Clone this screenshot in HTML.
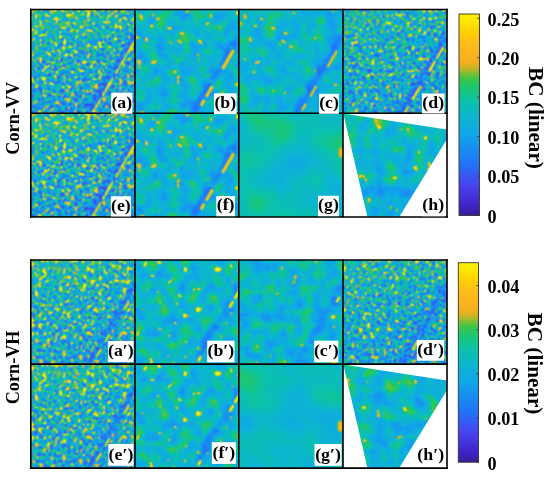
<!DOCTYPE html>
<html><head><meta charset="utf-8"><style>
html,body{margin:0;padding:0;background:#fff;}
svg{display:block;}
text{font-family:"Liberation Serif",serif;font-weight:bold;fill:#000;opacity:0.999;}
.lab{font-size:15.9px;}
.tick{font-size:19.6px;}
.side{font-size:18.2px;}
.bcl{font-size:21.2px;}
</style></head><body>
<svg width="550" height="477" viewBox="0 0 550 477">
<defs>
<filter id="cmap" x="0" y="0" width="100%" height="100%" color-interpolation-filters="sRGB"><feComponentTransfer><feFuncR type="table" tableValues="0.220 0.226 0.232 0.238 0.245 0.251 0.254 0.257 0.260 0.264 0.267 0.270 0.273 0.276 0.279 0.282 0.268 0.254 0.240 0.225 0.211 0.197 0.183 0.168 0.154 0.140 0.125 0.121 0.117 0.112 0.108 0.103 0.099 0.094 0.090 0.085 0.081 0.076 0.072 0.067 0.063 0.061 0.060 0.058 0.056 0.055 0.053 0.052 0.050 0.049 0.047 0.047 0.047 0.047 0.047 0.047 0.047 0.047 0.056 0.066 0.075 0.085 0.094 0.110 0.125 0.141 0.178 0.214 0.251 0.345 0.439 0.554 0.669 0.784 0.839 0.894 0.949 0.961 0.973 0.984 0.996 0.997 0.997 0.998 0.999 0.999 1.000 1.000 1.000 1.000 1.000 1.000 1.000 1.000 1.000 1.000 1.000 0.997 0.994 0.991 0.988"/><feFuncG type="table" tableValues="0.110 0.116 0.122 0.129 0.135 0.141 0.154 0.166 0.179 0.191 0.204 0.216 0.229 0.242 0.254 0.267 0.284 0.302 0.320 0.338 0.356 0.374 0.391 0.409 0.427 0.445 0.463 0.476 0.490 0.503 0.517 0.530 0.543 0.557 0.570 0.584 0.597 0.611 0.624 0.638 0.651 0.658 0.665 0.672 0.679 0.686 0.693 0.700 0.707 0.715 0.722 0.727 0.733 0.738 0.744 0.750 0.755 0.761 0.764 0.767 0.770 0.773 0.776 0.779 0.782 0.784 0.782 0.779 0.776 0.765 0.753 0.737 0.722 0.706 0.701 0.695 0.690 0.694 0.698 0.702 0.706 0.712 0.719 0.725 0.732 0.739 0.745 0.759 0.774 0.788 0.803 0.817 0.831 0.849 0.867 0.884 0.902 0.912 0.922 0.931 0.941"/><feFuncB type="table" tableValues="0.596 0.634 0.671 0.709 0.747 0.784 0.800 0.816 0.831 0.847 0.863 0.878 0.894 0.910 0.925 0.941 0.944 0.947 0.950 0.953 0.955 0.958 0.961 0.964 0.967 0.970 0.973 0.969 0.965 0.961 0.957 0.953 0.949 0.945 0.941 0.937 0.933 0.929 0.925 0.922 0.918 0.906 0.894 0.882 0.871 0.859 0.847 0.835 0.824 0.812 0.800 0.780 0.760 0.739 0.719 0.699 0.679 0.659 0.624 0.590 0.555 0.521 0.486 0.455 0.424 0.392 0.356 0.319 0.282 0.251 0.220 0.199 0.178 0.157 0.146 0.136 0.125 0.125 0.125 0.125 0.125 0.120 0.115 0.110 0.105 0.099 0.094 0.078 0.063 0.047 0.031 0.016 0.000 0.000 0.000 0.000 0.000 0.000 0.000 0.000 0.000"/></feComponentTransfer></filter>
<filter id="cmapb" x="0" y="0" width="100%" height="100%" color-interpolation-filters="sRGB"><feComponentTransfer><feFuncR type="table" tableValues="0.220 0.226 0.232 0.238 0.245 0.251 0.254 0.257 0.260 0.264 0.267 0.270 0.273 0.276 0.279 0.282 0.268 0.254 0.240 0.225 0.211 0.197 0.183 0.168 0.154 0.140 0.125 0.121 0.117 0.112 0.108 0.103 0.099 0.094 0.090 0.085 0.081 0.076 0.072 0.067 0.063 0.061 0.060 0.058 0.056 0.055 0.053 0.052 0.050 0.049 0.047 0.047 0.047 0.047 0.047 0.047 0.047 0.047 0.056 0.066 0.075 0.085 0.094 0.110 0.125 0.141 0.178 0.214 0.251 0.345 0.439 0.554 0.669 0.784 0.839 0.894 0.949 0.961 0.973 0.984 0.996 0.997 0.997 0.998 0.999 0.999 1.000 1.000 1.000 1.000 1.000 1.000 1.000 1.000 1.000 1.000 1.000 0.997 0.994 0.991 0.988"/><feFuncG type="table" tableValues="0.110 0.116 0.122 0.129 0.135 0.141 0.154 0.166 0.179 0.191 0.204 0.216 0.229 0.242 0.254 0.267 0.284 0.302 0.320 0.338 0.356 0.374 0.391 0.409 0.427 0.445 0.463 0.476 0.490 0.503 0.517 0.530 0.543 0.557 0.570 0.584 0.597 0.611 0.624 0.638 0.651 0.658 0.665 0.672 0.679 0.686 0.693 0.700 0.707 0.715 0.722 0.727 0.733 0.738 0.744 0.750 0.755 0.761 0.764 0.767 0.770 0.773 0.776 0.779 0.782 0.784 0.782 0.779 0.776 0.765 0.753 0.737 0.722 0.706 0.701 0.695 0.690 0.694 0.698 0.702 0.706 0.712 0.719 0.725 0.732 0.739 0.745 0.759 0.774 0.788 0.803 0.817 0.831 0.849 0.867 0.884 0.902 0.912 0.922 0.931 0.941"/><feFuncB type="table" tableValues="0.596 0.634 0.671 0.709 0.747 0.784 0.800 0.816 0.831 0.847 0.863 0.878 0.894 0.910 0.925 0.941 0.944 0.947 0.950 0.953 0.955 0.958 0.961 0.964 0.967 0.970 0.973 0.969 0.965 0.961 0.957 0.953 0.949 0.945 0.941 0.937 0.933 0.929 0.925 0.922 0.918 0.906 0.894 0.882 0.871 0.859 0.847 0.835 0.824 0.812 0.800 0.780 0.760 0.739 0.719 0.699 0.679 0.659 0.624 0.590 0.555 0.521 0.486 0.455 0.424 0.392 0.356 0.319 0.282 0.251 0.220 0.199 0.178 0.157 0.146 0.136 0.125 0.125 0.125 0.125 0.125 0.120 0.115 0.110 0.105 0.099 0.094 0.078 0.063 0.047 0.031 0.016 0.000 0.000 0.000 0.000 0.000 0.000 0.000 0.000 0.000"/></feComponentTransfer><feConvolveMatrix order="3" kernelMatrix="1 2 1 2 4 2 1 2 1" edgeMode="duplicate" preserveAlpha="true"/></filter>
<clipPath id="pclip"><rect x="0" y="0" width="104.2" height="103.7"/></clipPath>
<filter id="bl1" x="-30%" y="-30%" width="160%" height="160%"><feGaussianBlur stdDeviation="2"/></filter>
<filter id="bl2" x="-30%" y="-30%" width="160%" height="160%"><feGaussianBlur stdDeviation="0.8"/></filter>
<filter id="n1" x="0" y="0" width="100%" height="100%" color-interpolation-filters="sRGB"><feTurbulence type="fractalNoise" baseFrequency="0.7" numOctaves="1" seed="11"/><feColorMatrix type="matrix" values="1 0 0 0 0 1 0 0 0 0 1 0 0 0 0 0 0 0 0 1"/><feComponentTransfer><feFuncR type="linear" slope="3" intercept="-1.0"/><feFuncG type="linear" slope="3" intercept="-1.0"/><feFuncB type="linear" slope="3" intercept="-1.0"/></feComponentTransfer><feConvolveMatrix order="5" kernelMatrix="1 4 6 4 1 4 16 24 16 4 6 24 36 24 6 4 16 24 16 4 1 4 6 4 1" edgeMode="duplicate" preserveAlpha="true"/><feComponentTransfer result="v1"><feFuncR type="table" tableValues="0.160 0.160 0.160 0.160 0.160 0.160 0.160 0.160 0.160 0.160 0.160 0.160 0.160 0.160 0.160 0.160 0.160 0.160 0.160 0.160 0.160 0.175 0.193 0.211 0.229 0.251 0.279 0.307 0.340 0.390 0.440 0.495 0.550 0.588 0.622 0.656 0.677 0.688 0.699 0.711 0.720 0.720 0.720 0.720 0.720 0.720 0.720 0.720 0.720 0.720 0.720 0.720 0.720 0.720 0.720 0.720 0.720 0.720 0.720 0.720 0.720"/><feFuncG type="table" tableValues="0.160 0.160 0.160 0.160 0.160 0.160 0.160 0.160 0.160 0.160 0.160 0.160 0.160 0.160 0.160 0.160 0.160 0.160 0.160 0.160 0.160 0.175 0.193 0.211 0.229 0.251 0.279 0.307 0.340 0.390 0.440 0.495 0.550 0.588 0.622 0.656 0.677 0.688 0.699 0.711 0.720 0.720 0.720 0.720 0.720 0.720 0.720 0.720 0.720 0.720 0.720 0.720 0.720 0.720 0.720 0.720 0.720 0.720 0.720 0.720 0.720"/><feFuncB type="table" tableValues="0.160 0.160 0.160 0.160 0.160 0.160 0.160 0.160 0.160 0.160 0.160 0.160 0.160 0.160 0.160 0.160 0.160 0.160 0.160 0.160 0.160 0.175 0.193 0.211 0.229 0.251 0.279 0.307 0.340 0.390 0.440 0.495 0.550 0.588 0.622 0.656 0.677 0.688 0.699 0.711 0.720 0.720 0.720 0.720 0.720 0.720 0.720 0.720 0.720 0.720 0.720 0.720 0.720 0.720 0.720 0.720 0.720 0.720 0.720 0.720 0.720"/></feComponentTransfer><feTurbulence type="fractalNoise" baseFrequency="0.25" numOctaves="2" seed="68"/><feColorMatrix type="matrix" values="1 0 0 0 0 1 0 0 0 0 1 0 0 0 0 0 0 0 0 1"/><feComponentTransfer result="v2"><feFuncR type="table" tableValues="0.000 0.000 0.000 0.000 0.000 0.000 0.000 0.000 0.000 0.000 0.000 0.000 0.000 0.000 0.000 0.000 0.000 0.000 0.000 0.000 0.000 0.000 0.000 0.000 0.000 0.000 0.000 0.000 0.000 0.000 0.000 0.000 0.000 0.000 0.000 0.000 0.000 0.109 0.369 0.510 0.596 0.605 0.611 0.617 0.622 0.628 0.633 0.639 0.644 0.650 0.656 0.660 0.660 0.660 0.660 0.660 0.660 0.660 0.660 0.660 0.660"/><feFuncG type="table" tableValues="0.000 0.000 0.000 0.000 0.000 0.000 0.000 0.000 0.000 0.000 0.000 0.000 0.000 0.000 0.000 0.000 0.000 0.000 0.000 0.000 0.000 0.000 0.000 0.000 0.000 0.000 0.000 0.000 0.000 0.000 0.000 0.000 0.000 0.000 0.000 0.000 0.000 0.109 0.369 0.510 0.596 0.605 0.611 0.617 0.622 0.628 0.633 0.639 0.644 0.650 0.656 0.660 0.660 0.660 0.660 0.660 0.660 0.660 0.660 0.660 0.660"/><feFuncB type="table" tableValues="0.000 0.000 0.000 0.000 0.000 0.000 0.000 0.000 0.000 0.000 0.000 0.000 0.000 0.000 0.000 0.000 0.000 0.000 0.000 0.000 0.000 0.000 0.000 0.000 0.000 0.000 0.000 0.000 0.000 0.000 0.000 0.000 0.000 0.000 0.000 0.000 0.000 0.109 0.369 0.510 0.596 0.605 0.611 0.617 0.622 0.628 0.633 0.639 0.644 0.650 0.656 0.660 0.660 0.660 0.660 0.660 0.660 0.660 0.660 0.660 0.660"/></feComponentTransfer><feComposite in="v1" in2="v2" operator="arithmetic" k2="1" k3="1"/></filter>
<linearGradient id="tl1" x1="0.2" y1="0" x2="0.5" y2="1"><stop offset="0" stop-color="#fff" stop-opacity="0.2"/><stop offset="0.45" stop-color="#fff" stop-opacity="0"/><stop offset="0.55" stop-color="#000" stop-opacity="0"/><stop offset="1" stop-color="#000" stop-opacity="0.13999999999999999"/></linearGradient>
<g id="vA" clip-path="url(#pclip)"><g filter="url(#cmapb)"><rect x="0" y="0" width="104.2" height="103.7" filter="url(#n1)"/><rect x="0" y="0" width="104.2" height="103.7" fill="url(#tl1)"/><line x1="56.6" y1="106.1" x2="104.2" y2="25.1" stroke="rgb(30,30,30)" stroke-width="5" stroke-opacity="0.75" filter="url(#bl1)"/><line x1="62.3" y1="102.5" x2="63.6" y2="100.2" stroke="rgb(250,250,250)" stroke-width="2.30" stroke-linecap="round"/><line x1="64.7" y1="98.3" x2="66.3" y2="95.6" stroke="rgb(250,250,250)" stroke-width="1.94" stroke-linecap="round"/><line x1="67.1" y1="94.3" x2="69.4" y2="90.3" stroke="rgb(250,250,250)" stroke-width="1.55" stroke-linecap="round"/><line x1="72.2" y1="85.5" x2="73.3" y2="83.6" stroke="rgb(250,250,250)" stroke-width="1.92" stroke-linecap="round"/><line x1="74.5" y1="81.7" x2="77.0" y2="77.3" stroke="rgb(250,250,250)" stroke-width="1.94" stroke-linecap="round"/><line x1="77.2" y1="77.0" x2="79.7" y2="72.7" stroke="rgb(250,250,250)" stroke-width="2.50" stroke-linecap="round"/><line x1="80.2" y1="71.9" x2="82.1" y2="68.6" stroke="rgb(250,250,250)" stroke-width="1.47" stroke-linecap="round"/><line x1="85.2" y1="63.5" x2="87.3" y2="59.8" stroke="rgb(250,250,250)" stroke-width="1.87" stroke-linecap="round"/><line x1="88.5" y1="57.7" x2="90.0" y2="55.2" stroke="rgb(250,250,250)" stroke-width="1.47" stroke-linecap="round"/><line x1="90.7" y1="54.0" x2="92.2" y2="51.4" stroke="rgb(250,250,250)" stroke-width="2.00" stroke-linecap="round"/><line x1="92.9" y1="50.3" x2="94.4" y2="47.7" stroke="rgb(250,250,250)" stroke-width="1.69" stroke-linecap="round"/><line x1="94.9" y1="46.9" x2="96.9" y2="43.5" stroke="rgb(250,250,250)" stroke-width="1.46" stroke-linecap="round"/><line x1="97.4" y1="42.6" x2="100.1" y2="38.0" stroke="rgb(250,250,250)" stroke-width="2.16" stroke-linecap="round"/><line x1="100.9" y1="36.6" x2="102.4" y2="34.1" stroke="rgb(250,250,250)" stroke-width="2.40" stroke-linecap="round"/></g></g>
<filter id="n2" x="0" y="0" width="100%" height="100%" color-interpolation-filters="sRGB"><feTurbulence type="fractalNoise" baseFrequency="0.09" numOctaves="3" seed="12"/><feColorMatrix type="matrix" values="1 0 0 0 0 1 0 0 0 0 1 0 0 0 0 0 0 0 0 1"/><feComponentTransfer result="v1"><feFuncR type="table" tableValues="0.330 0.330 0.330 0.330 0.330 0.330 0.330 0.330 0.330 0.332 0.338 0.345 0.351 0.357 0.363 0.370 0.376 0.382 0.388 0.396 0.404 0.412 0.420 0.428 0.436 0.445 0.453 0.461 0.469 0.477 0.485 0.496 0.506 0.517 0.528 0.538 0.549 0.559 0.570 0.581 0.591 0.602 0.612 0.620 0.629 0.637 0.645 0.654 0.662 0.670 0.679 0.687 0.690 0.690 0.690 0.690 0.690 0.690 0.690 0.690 0.690"/><feFuncG type="table" tableValues="0.330 0.330 0.330 0.330 0.330 0.330 0.330 0.330 0.330 0.332 0.338 0.345 0.351 0.357 0.363 0.370 0.376 0.382 0.388 0.396 0.404 0.412 0.420 0.428 0.436 0.445 0.453 0.461 0.469 0.477 0.485 0.496 0.506 0.517 0.528 0.538 0.549 0.559 0.570 0.581 0.591 0.602 0.612 0.620 0.629 0.637 0.645 0.654 0.662 0.670 0.679 0.687 0.690 0.690 0.690 0.690 0.690 0.690 0.690 0.690 0.690"/><feFuncB type="table" tableValues="0.330 0.330 0.330 0.330 0.330 0.330 0.330 0.330 0.330 0.332 0.338 0.345 0.351 0.357 0.363 0.370 0.376 0.382 0.388 0.396 0.404 0.412 0.420 0.428 0.436 0.445 0.453 0.461 0.469 0.477 0.485 0.496 0.506 0.517 0.528 0.538 0.549 0.559 0.570 0.581 0.591 0.602 0.612 0.620 0.629 0.637 0.645 0.654 0.662 0.670 0.679 0.687 0.690 0.690 0.690 0.690 0.690 0.690 0.690 0.690 0.690"/></feComponentTransfer><feTurbulence type="fractalNoise" baseFrequency="0.1" numOctaves="2" seed="69"/><feColorMatrix type="matrix" values="1 0 0 0 0 1 0 0 0 0 1 0 0 0 0 0 0 0 0 1"/><feComponentTransfer result="v2"><feFuncR type="table" tableValues="0.000 0.000 0.000 0.000 0.000 0.000 0.000 0.000 0.000 0.000 0.000 0.000 0.000 0.000 0.000 0.000 0.000 0.000 0.000 0.000 0.000 0.000 0.000 0.000 0.000 0.000 0.000 0.000 0.000 0.000 0.000 0.000 0.000 0.000 0.000 0.000 0.000 0.000 0.000 0.000 0.000 0.000 0.000 0.000 0.094 0.201 0.308 0.368 0.383 0.398 0.413 0.428 0.443 0.450 0.450 0.450 0.450 0.450 0.450 0.450 0.450"/><feFuncG type="table" tableValues="0.000 0.000 0.000 0.000 0.000 0.000 0.000 0.000 0.000 0.000 0.000 0.000 0.000 0.000 0.000 0.000 0.000 0.000 0.000 0.000 0.000 0.000 0.000 0.000 0.000 0.000 0.000 0.000 0.000 0.000 0.000 0.000 0.000 0.000 0.000 0.000 0.000 0.000 0.000 0.000 0.000 0.000 0.000 0.000 0.094 0.201 0.308 0.368 0.383 0.398 0.413 0.428 0.443 0.450 0.450 0.450 0.450 0.450 0.450 0.450 0.450"/><feFuncB type="table" tableValues="0.000 0.000 0.000 0.000 0.000 0.000 0.000 0.000 0.000 0.000 0.000 0.000 0.000 0.000 0.000 0.000 0.000 0.000 0.000 0.000 0.000 0.000 0.000 0.000 0.000 0.000 0.000 0.000 0.000 0.000 0.000 0.000 0.000 0.000 0.000 0.000 0.000 0.000 0.000 0.000 0.000 0.000 0.000 0.000 0.094 0.201 0.308 0.368 0.383 0.398 0.413 0.428 0.443 0.450 0.450 0.450 0.450 0.450 0.450 0.450 0.450"/></feComponentTransfer><feComposite in="v1" in2="v2" operator="arithmetic" k2="1" k3="1"/></filter>
<linearGradient id="tl2" x1="0.2" y1="0" x2="0.5" y2="1"><stop offset="0" stop-color="#fff" stop-opacity="0.03"/><stop offset="0.45" stop-color="#fff" stop-opacity="0"/><stop offset="0.55" stop-color="#000" stop-opacity="0"/><stop offset="1" stop-color="#000" stop-opacity="0.020999999999999998"/></linearGradient>
<g id="vB" clip-path="url(#pclip)"><g filter="url(#cmapb)"><rect x="0" y="0" width="104.2" height="103.7" filter="url(#n2)"/><rect x="0" y="0" width="104.2" height="103.7" fill="url(#tl2)"/><line x1="56.6" y1="106.1" x2="104.2" y2="25.1" stroke="rgb(30,30,30)" stroke-width="7" stroke-opacity="0.6" filter="url(#bl1)"/><line x1="66.6" y1="95.1" x2="68.7" y2="91.4" stroke="rgb(222,222,222)" stroke-width="3.20" stroke-linecap="round"/><line x1="71.8" y1="86.3" x2="77.0" y2="77.4" stroke="rgb(222,222,222)" stroke-width="3.20" stroke-linecap="round"/><line x1="88.2" y1="58.3" x2="98.1" y2="41.4" stroke="rgb(222,222,222)" stroke-width="3.36" stroke-linecap="round"/><ellipse cx="0" cy="0" rx="3.0" ry="1.5" transform="translate(6.3,7.3) rotate(70)" fill="rgb(225,225,225)"/><ellipse cx="0" cy="0" rx="2.0" ry="1.5" transform="translate(16.7,16.6) rotate(0)" fill="rgb(225,225,225)"/><ellipse cx="0" cy="0" rx="2.0" ry="1.3" transform="translate(22.9,9.3) rotate(0)" fill="rgb(225,225,225)"/><ellipse cx="0" cy="0" rx="2.5" ry="1.5" transform="translate(34.4,18.7) rotate(20)" fill="rgb(225,225,225)"/><ellipse cx="0" cy="0" rx="2.0" ry="1.3" transform="translate(46.9,23.9) rotate(0)" fill="rgb(225,225,225)"/><ellipse cx="0" cy="0" rx="3.0" ry="1.3" transform="translate(44.8,32.1) rotate(30)" fill="rgb(225,225,225)"/><ellipse cx="0" cy="0" rx="2.5" ry="1.5" transform="translate(11.5,30.1) rotate(80)" fill="rgb(225,225,225)"/><ellipse cx="0" cy="0" rx="3.0" ry="1.5" transform="translate(18.8,52.9) rotate(-20)" fill="rgb(225,225,225)"/><ellipse cx="0" cy="0" rx="2.0" ry="1.2" transform="translate(2.1,28.0) rotate(0)" fill="rgb(225,225,225)"/><ellipse cx="0" cy="0" rx="2.0" ry="1.2" transform="translate(39.6,62.2) rotate(0)" fill="rgb(225,225,225)"/></g></g>
<filter id="n3" x="0" y="0" width="100%" height="100%" color-interpolation-filters="sRGB"><feTurbulence type="fractalNoise" baseFrequency="0.08" numOctaves="3" seed="13"/><feColorMatrix type="matrix" values="1 0 0 0 0 1 0 0 0 0 1 0 0 0 0 0 0 0 0 1"/><feComponentTransfer result="v1"><feFuncR type="table" tableValues="0.330 0.330 0.330 0.330 0.330 0.330 0.330 0.330 0.330 0.330 0.335 0.341 0.348 0.354 0.361 0.367 0.373 0.380 0.386 0.394 0.402 0.410 0.418 0.427 0.435 0.443 0.452 0.460 0.468 0.477 0.485 0.496 0.507 0.518 0.529 0.540 0.551 0.562 0.573 0.583 0.594 0.605 0.615 0.623 0.632 0.641 0.649 0.658 0.666 0.675 0.683 0.690 0.690 0.690 0.690 0.690 0.690 0.690 0.690 0.690 0.690"/><feFuncG type="table" tableValues="0.330 0.330 0.330 0.330 0.330 0.330 0.330 0.330 0.330 0.330 0.335 0.341 0.348 0.354 0.361 0.367 0.373 0.380 0.386 0.394 0.402 0.410 0.418 0.427 0.435 0.443 0.452 0.460 0.468 0.477 0.485 0.496 0.507 0.518 0.529 0.540 0.551 0.562 0.573 0.583 0.594 0.605 0.615 0.623 0.632 0.641 0.649 0.658 0.666 0.675 0.683 0.690 0.690 0.690 0.690 0.690 0.690 0.690 0.690 0.690 0.690"/><feFuncB type="table" tableValues="0.330 0.330 0.330 0.330 0.330 0.330 0.330 0.330 0.330 0.330 0.335 0.341 0.348 0.354 0.361 0.367 0.373 0.380 0.386 0.394 0.402 0.410 0.418 0.427 0.435 0.443 0.452 0.460 0.468 0.477 0.485 0.496 0.507 0.518 0.529 0.540 0.551 0.562 0.573 0.583 0.594 0.605 0.615 0.623 0.632 0.641 0.649 0.658 0.666 0.675 0.683 0.690 0.690 0.690 0.690 0.690 0.690 0.690 0.690 0.690 0.690"/></feComponentTransfer><feTurbulence type="fractalNoise" baseFrequency="0.1" numOctaves="2" seed="70"/><feColorMatrix type="matrix" values="1 0 0 0 0 1 0 0 0 0 1 0 0 0 0 0 0 0 0 1"/><feComponentTransfer result="v2"><feFuncR type="table" tableValues="0.000 0.000 0.000 0.000 0.000 0.000 0.000 0.000 0.000 0.000 0.000 0.000 0.000 0.000 0.000 0.000 0.000 0.000 0.000 0.000 0.000 0.000 0.000 0.000 0.000 0.000 0.000 0.000 0.000 0.000 0.000 0.000 0.000 0.000 0.000 0.000 0.000 0.000 0.000 0.000 0.000 0.000 0.000 0.000 0.014 0.114 0.215 0.316 0.356 0.377 0.398 0.419 0.440 0.450 0.450 0.450 0.450 0.450 0.450 0.450 0.450"/><feFuncG type="table" tableValues="0.000 0.000 0.000 0.000 0.000 0.000 0.000 0.000 0.000 0.000 0.000 0.000 0.000 0.000 0.000 0.000 0.000 0.000 0.000 0.000 0.000 0.000 0.000 0.000 0.000 0.000 0.000 0.000 0.000 0.000 0.000 0.000 0.000 0.000 0.000 0.000 0.000 0.000 0.000 0.000 0.000 0.000 0.000 0.000 0.014 0.114 0.215 0.316 0.356 0.377 0.398 0.419 0.440 0.450 0.450 0.450 0.450 0.450 0.450 0.450 0.450"/><feFuncB type="table" tableValues="0.000 0.000 0.000 0.000 0.000 0.000 0.000 0.000 0.000 0.000 0.000 0.000 0.000 0.000 0.000 0.000 0.000 0.000 0.000 0.000 0.000 0.000 0.000 0.000 0.000 0.000 0.000 0.000 0.000 0.000 0.000 0.000 0.000 0.000 0.000 0.000 0.000 0.000 0.000 0.000 0.000 0.000 0.000 0.000 0.014 0.114 0.215 0.316 0.356 0.377 0.398 0.419 0.440 0.450 0.450 0.450 0.450 0.450 0.450 0.450 0.450"/></feComponentTransfer><feComposite in="v1" in2="v2" operator="arithmetic" k2="1" k3="1"/></filter>
<linearGradient id="tl3" x1="0.2" y1="0" x2="0.5" y2="1"><stop offset="0" stop-color="#fff" stop-opacity="0.03"/><stop offset="0.45" stop-color="#fff" stop-opacity="0"/><stop offset="0.55" stop-color="#000" stop-opacity="0"/><stop offset="1" stop-color="#000" stop-opacity="0.020999999999999998"/></linearGradient>
<g id="vC" clip-path="url(#pclip)"><g filter="url(#cmapb)"><rect x="0" y="0" width="104.2" height="103.7" filter="url(#n3)"/><rect x="0" y="0" width="104.2" height="103.7" fill="url(#tl3)"/><line x1="56.6" y1="106.1" x2="104.2" y2="25.1" stroke="rgb(30,30,30)" stroke-width="7" stroke-opacity="0.6" filter="url(#bl1)"/><line x1="63.6" y1="100.3" x2="66.6" y2="95.1" stroke="rgb(215,215,215)" stroke-width="2.40" stroke-linecap="round"/><line x1="71.8" y1="86.3" x2="77.0" y2="77.4" stroke="rgb(215,215,215)" stroke-width="2.40" stroke-linecap="round"/><line x1="89.1" y1="56.8" x2="97.7" y2="42.1" stroke="rgb(215,215,215)" stroke-width="2.40" stroke-linecap="round"/><ellipse cx="0" cy="0" rx="3.0" ry="1.5" transform="translate(6.3,7.3) rotate(70)" fill="rgb(215,215,215)"/><ellipse cx="0" cy="0" rx="2.0" ry="1.5" transform="translate(16.7,16.6) rotate(0)" fill="rgb(215,215,215)"/><ellipse cx="0" cy="0" rx="2.0" ry="1.3" transform="translate(22.9,9.3) rotate(0)" fill="rgb(215,215,215)"/><ellipse cx="0" cy="0" rx="2.5" ry="1.5" transform="translate(34.4,18.7) rotate(20)" fill="rgb(215,215,215)"/><ellipse cx="0" cy="0" rx="2.0" ry="1.3" transform="translate(46.9,23.9) rotate(0)" fill="rgb(215,215,215)"/><ellipse cx="0" cy="0" rx="3.0" ry="1.3" transform="translate(44.8,32.1) rotate(30)" fill="rgb(215,215,215)"/><ellipse cx="0" cy="0" rx="2.5" ry="1.5" transform="translate(11.5,30.1) rotate(80)" fill="rgb(215,215,215)"/><ellipse cx="0" cy="0" rx="3.0" ry="1.5" transform="translate(18.8,52.9) rotate(-20)" fill="rgb(215,215,215)"/></g></g>
<filter id="n4" x="0" y="0" width="100%" height="100%" color-interpolation-filters="sRGB"><feTurbulence type="fractalNoise" baseFrequency="0.7" numOctaves="1" seed="14"/><feColorMatrix type="matrix" values="1 0 0 0 0 1 0 0 0 0 1 0 0 0 0 0 0 0 0 1"/><feComponentTransfer><feFuncR type="linear" slope="3" intercept="-1.0"/><feFuncG type="linear" slope="3" intercept="-1.0"/><feFuncB type="linear" slope="3" intercept="-1.0"/></feComponentTransfer><feConvolveMatrix order="5" kernelMatrix="1 4 6 4 1 4 16 24 16 4 6 24 36 24 6 4 16 24 16 4 1 4 6 4 1" edgeMode="duplicate" preserveAlpha="true"/><feComponentTransfer result="v1"><feFuncR type="table" tableValues="0.160 0.160 0.160 0.160 0.160 0.160 0.160 0.160 0.160 0.160 0.160 0.160 0.160 0.160 0.160 0.160 0.160 0.160 0.160 0.160 0.160 0.175 0.193 0.211 0.229 0.251 0.279 0.307 0.340 0.390 0.440 0.495 0.550 0.588 0.622 0.656 0.677 0.688 0.699 0.711 0.720 0.720 0.720 0.720 0.720 0.720 0.720 0.720 0.720 0.720 0.720 0.720 0.720 0.720 0.720 0.720 0.720 0.720 0.720 0.720 0.720"/><feFuncG type="table" tableValues="0.160 0.160 0.160 0.160 0.160 0.160 0.160 0.160 0.160 0.160 0.160 0.160 0.160 0.160 0.160 0.160 0.160 0.160 0.160 0.160 0.160 0.175 0.193 0.211 0.229 0.251 0.279 0.307 0.340 0.390 0.440 0.495 0.550 0.588 0.622 0.656 0.677 0.688 0.699 0.711 0.720 0.720 0.720 0.720 0.720 0.720 0.720 0.720 0.720 0.720 0.720 0.720 0.720 0.720 0.720 0.720 0.720 0.720 0.720 0.720 0.720"/><feFuncB type="table" tableValues="0.160 0.160 0.160 0.160 0.160 0.160 0.160 0.160 0.160 0.160 0.160 0.160 0.160 0.160 0.160 0.160 0.160 0.160 0.160 0.160 0.160 0.175 0.193 0.211 0.229 0.251 0.279 0.307 0.340 0.390 0.440 0.495 0.550 0.588 0.622 0.656 0.677 0.688 0.699 0.711 0.720 0.720 0.720 0.720 0.720 0.720 0.720 0.720 0.720 0.720 0.720 0.720 0.720 0.720 0.720 0.720 0.720 0.720 0.720 0.720 0.720"/></feComponentTransfer><feTurbulence type="fractalNoise" baseFrequency="0.25" numOctaves="2" seed="71"/><feColorMatrix type="matrix" values="1 0 0 0 0 1 0 0 0 0 1 0 0 0 0 0 0 0 0 1"/><feComponentTransfer result="v2"><feFuncR type="table" tableValues="0.000 0.000 0.000 0.000 0.000 0.000 0.000 0.000 0.000 0.000 0.000 0.000 0.000 0.000 0.000 0.000 0.000 0.000 0.000 0.000 0.000 0.000 0.000 0.000 0.000 0.000 0.000 0.000 0.000 0.000 0.000 0.000 0.000 0.000 0.000 0.000 0.000 0.000 0.000 0.000 0.259 0.473 0.559 0.604 0.611 0.618 0.625 0.633 0.640 0.647 0.654 0.660 0.660 0.660 0.660 0.660 0.660 0.660 0.660 0.660 0.660"/><feFuncG type="table" tableValues="0.000 0.000 0.000 0.000 0.000 0.000 0.000 0.000 0.000 0.000 0.000 0.000 0.000 0.000 0.000 0.000 0.000 0.000 0.000 0.000 0.000 0.000 0.000 0.000 0.000 0.000 0.000 0.000 0.000 0.000 0.000 0.000 0.000 0.000 0.000 0.000 0.000 0.000 0.000 0.000 0.259 0.473 0.559 0.604 0.611 0.618 0.625 0.633 0.640 0.647 0.654 0.660 0.660 0.660 0.660 0.660 0.660 0.660 0.660 0.660 0.660"/><feFuncB type="table" tableValues="0.000 0.000 0.000 0.000 0.000 0.000 0.000 0.000 0.000 0.000 0.000 0.000 0.000 0.000 0.000 0.000 0.000 0.000 0.000 0.000 0.000 0.000 0.000 0.000 0.000 0.000 0.000 0.000 0.000 0.000 0.000 0.000 0.000 0.000 0.000 0.000 0.000 0.000 0.000 0.000 0.259 0.473 0.559 0.604 0.611 0.618 0.625 0.633 0.640 0.647 0.654 0.660 0.660 0.660 0.660 0.660 0.660 0.660 0.660 0.660 0.660"/></feComponentTransfer><feComposite in="v1" in2="v2" operator="arithmetic" k2="1" k3="1"/></filter>
<linearGradient id="tl4" x1="0.2" y1="0" x2="0.5" y2="1"><stop offset="0" stop-color="#fff" stop-opacity="0.14"/><stop offset="0.45" stop-color="#fff" stop-opacity="0"/><stop offset="0.55" stop-color="#000" stop-opacity="0"/><stop offset="1" stop-color="#000" stop-opacity="0.098"/></linearGradient>
<g id="vD" clip-path="url(#pclip)"><g filter="url(#cmapb)"><rect x="0" y="0" width="104.2" height="103.7" filter="url(#n4)"/><rect x="0" y="0" width="104.2" height="103.7" fill="url(#tl4)"/><line x1="56.6" y1="106.1" x2="104.2" y2="25.1" stroke="rgb(30,30,30)" stroke-width="5" stroke-opacity="0.75" filter="url(#bl1)"/><line x1="62.3" y1="102.5" x2="65.2" y2="97.5" stroke="rgb(250,250,250)" stroke-width="1.82" stroke-linecap="round"/><line x1="70.0" y1="89.2" x2="71.3" y2="87.1" stroke="rgb(250,250,250)" stroke-width="2.58" stroke-linecap="round"/><line x1="72.4" y1="85.2" x2="74.8" y2="81.1" stroke="rgb(250,250,250)" stroke-width="2.44" stroke-linecap="round"/><line x1="75.3" y1="80.2" x2="76.1" y2="78.9" stroke="rgb(250,250,250)" stroke-width="1.94" stroke-linecap="round"/><line x1="86.5" y1="61.2" x2="88.4" y2="58.0" stroke="rgb(250,250,250)" stroke-width="2.57" stroke-linecap="round"/><line x1="89.0" y1="56.9" x2="91.7" y2="52.4" stroke="rgb(250,250,250)" stroke-width="2.37" stroke-linecap="round"/><line x1="93.8" y1="48.7" x2="95.8" y2="45.4" stroke="rgb(250,250,250)" stroke-width="1.80" stroke-linecap="round"/><line x1="96.3" y1="44.6" x2="97.4" y2="42.6" stroke="rgb(250,250,250)" stroke-width="2.12" stroke-linecap="round"/><line x1="98.1" y1="41.4" x2="99.9" y2="38.3" stroke="rgb(250,250,250)" stroke-width="2.35" stroke-linecap="round"/></g></g>
<filter id="n5" x="0" y="0" width="100%" height="100%" color-interpolation-filters="sRGB"><feTurbulence type="fractalNoise" baseFrequency="0.025" numOctaves="2" seed="15"/><feColorMatrix type="matrix" values="1 0 0 0 0 1 0 0 0 0 1 0 0 0 0 0 0 0 0 1"/><feComponentTransfer result="v1"><feFuncR type="table" tableValues="0.400 0.400 0.400 0.400 0.400 0.400 0.400 0.400 0.403 0.409 0.415 0.421 0.427 0.433 0.439 0.445 0.451 0.457 0.462 0.468 0.474 0.479 0.485 0.491 0.496 0.502 0.507 0.513 0.519 0.524 0.530 0.535 0.540 0.546 0.551 0.556 0.561 0.567 0.572 0.577 0.582 0.588 0.593 0.598 0.604 0.609 0.614 0.620 0.625 0.631 0.636 0.641 0.647 0.650 0.650 0.650 0.650 0.650 0.650 0.650 0.650"/><feFuncG type="table" tableValues="0.400 0.400 0.400 0.400 0.400 0.400 0.400 0.400 0.403 0.409 0.415 0.421 0.427 0.433 0.439 0.445 0.451 0.457 0.462 0.468 0.474 0.479 0.485 0.491 0.496 0.502 0.507 0.513 0.519 0.524 0.530 0.535 0.540 0.546 0.551 0.556 0.561 0.567 0.572 0.577 0.582 0.588 0.593 0.598 0.604 0.609 0.614 0.620 0.625 0.631 0.636 0.641 0.647 0.650 0.650 0.650 0.650 0.650 0.650 0.650 0.650"/><feFuncB type="table" tableValues="0.400 0.400 0.400 0.400 0.400 0.400 0.400 0.400 0.403 0.409 0.415 0.421 0.427 0.433 0.439 0.445 0.451 0.457 0.462 0.468 0.474 0.479 0.485 0.491 0.496 0.502 0.507 0.513 0.519 0.524 0.530 0.535 0.540 0.546 0.551 0.556 0.561 0.567 0.572 0.577 0.582 0.588 0.593 0.598 0.604 0.609 0.614 0.620 0.625 0.631 0.636 0.641 0.647 0.650 0.650 0.650 0.650 0.650 0.650 0.650 0.650"/></feComponentTransfer></filter>
<linearGradient id="tl5" x1="0.2" y1="0" x2="0.5" y2="1"><stop offset="0" stop-color="#fff" stop-opacity="0.07"/><stop offset="0.45" stop-color="#fff" stop-opacity="0"/><stop offset="0.55" stop-color="#000" stop-opacity="0"/><stop offset="1" stop-color="#000" stop-opacity="0.049"/></linearGradient>
<g id="vG" clip-path="url(#pclip)"><g filter="url(#cmapb)"><rect x="0" y="0" width="104.2" height="103.7" filter="url(#n5)"/><rect x="0" y="0" width="104.2" height="103.7" fill="url(#tl5)"/><ellipse cx="0" cy="0" rx="5.5" ry="2.5" transform="translate(102.1,39.4) rotate(90)" fill="rgb(195,195,195)"/></g></g>
<filter id="n6" x="0" y="0" width="100%" height="100%" color-interpolation-filters="sRGB"><feTurbulence type="fractalNoise" baseFrequency="0.07" numOctaves="3" seed="17"/><feColorMatrix type="matrix" values="1 0 0 0 0 1 0 0 0 0 1 0 0 0 0 0 0 0 0 1"/><feComponentTransfer result="v1"><feFuncR type="table" tableValues="0.330 0.330 0.330 0.330 0.330 0.330 0.330 0.330 0.330 0.334 0.340 0.346 0.352 0.358 0.364 0.371 0.377 0.383 0.389 0.397 0.405 0.413 0.421 0.429 0.437 0.445 0.453 0.461 0.469 0.477 0.485 0.496 0.506 0.517 0.527 0.538 0.548 0.559 0.569 0.580 0.590 0.601 0.611 0.619 0.628 0.636 0.644 0.652 0.661 0.669 0.677 0.685 0.690 0.690 0.690 0.690 0.690 0.690 0.690 0.690 0.690"/><feFuncG type="table" tableValues="0.330 0.330 0.330 0.330 0.330 0.330 0.330 0.330 0.330 0.334 0.340 0.346 0.352 0.358 0.364 0.371 0.377 0.383 0.389 0.397 0.405 0.413 0.421 0.429 0.437 0.445 0.453 0.461 0.469 0.477 0.485 0.496 0.506 0.517 0.527 0.538 0.548 0.559 0.569 0.580 0.590 0.601 0.611 0.619 0.628 0.636 0.644 0.652 0.661 0.669 0.677 0.685 0.690 0.690 0.690 0.690 0.690 0.690 0.690 0.690 0.690"/><feFuncB type="table" tableValues="0.330 0.330 0.330 0.330 0.330 0.330 0.330 0.330 0.330 0.334 0.340 0.346 0.352 0.358 0.364 0.371 0.377 0.383 0.389 0.397 0.405 0.413 0.421 0.429 0.437 0.445 0.453 0.461 0.469 0.477 0.485 0.496 0.506 0.517 0.527 0.538 0.548 0.559 0.569 0.580 0.590 0.601 0.611 0.619 0.628 0.636 0.644 0.652 0.661 0.669 0.677 0.685 0.690 0.690 0.690 0.690 0.690 0.690 0.690 0.690 0.690"/></feComponentTransfer><feTurbulence type="fractalNoise" baseFrequency="0.1" numOctaves="2" seed="74"/><feColorMatrix type="matrix" values="1 0 0 0 0 1 0 0 0 0 1 0 0 0 0 0 0 0 0 1"/><feComponentTransfer result="v2"><feFuncR type="table" tableValues="0.000 0.000 0.000 0.000 0.000 0.000 0.000 0.000 0.000 0.000 0.000 0.000 0.000 0.000 0.000 0.000 0.000 0.000 0.000 0.000 0.000 0.000 0.000 0.000 0.000 0.000 0.000 0.000 0.000 0.000 0.000 0.000 0.000 0.000 0.000 0.000 0.000 0.000 0.000 0.000 0.000 0.000 0.000 0.000 0.054 0.161 0.268 0.362 0.378 0.394 0.410 0.426 0.442 0.450 0.450 0.450 0.450 0.450 0.450 0.450 0.450"/><feFuncG type="table" tableValues="0.000 0.000 0.000 0.000 0.000 0.000 0.000 0.000 0.000 0.000 0.000 0.000 0.000 0.000 0.000 0.000 0.000 0.000 0.000 0.000 0.000 0.000 0.000 0.000 0.000 0.000 0.000 0.000 0.000 0.000 0.000 0.000 0.000 0.000 0.000 0.000 0.000 0.000 0.000 0.000 0.000 0.000 0.000 0.000 0.054 0.161 0.268 0.362 0.378 0.394 0.410 0.426 0.442 0.450 0.450 0.450 0.450 0.450 0.450 0.450 0.450"/><feFuncB type="table" tableValues="0.000 0.000 0.000 0.000 0.000 0.000 0.000 0.000 0.000 0.000 0.000 0.000 0.000 0.000 0.000 0.000 0.000 0.000 0.000 0.000 0.000 0.000 0.000 0.000 0.000 0.000 0.000 0.000 0.000 0.000 0.000 0.000 0.000 0.000 0.000 0.000 0.000 0.000 0.000 0.000 0.000 0.000 0.000 0.000 0.054 0.161 0.268 0.362 0.378 0.394 0.410 0.426 0.442 0.450 0.450 0.450 0.450 0.450 0.450 0.450 0.450"/></feComponentTransfer><feComposite in="v1" in2="v2" operator="arithmetic" k2="1" k3="1"/></filter>
<linearGradient id="tl6" x1="0.2" y1="0" x2="0.5" y2="1"><stop offset="0" stop-color="#fff" stop-opacity="0.14"/><stop offset="0.45" stop-color="#fff" stop-opacity="0"/><stop offset="0.55" stop-color="#000" stop-opacity="0"/><stop offset="1" stop-color="#000" stop-opacity="0.098"/></linearGradient>
<g id="vH" clip-path="url(#pclip)"><g filter="url(#cmapb)"><rect x="0" y="0" width="104.2" height="103.7" filter="url(#n6)"/><rect x="0" y="0" width="104.2" height="103.7" fill="url(#tl6)"/></g></g>
<filter id="n7" x="0" y="0" width="100%" height="100%" color-interpolation-filters="sRGB"><feTurbulence type="fractalNoise" baseFrequency="0.7" numOctaves="1" seed="21"/><feColorMatrix type="matrix" values="1 0 0 0 0 1 0 0 0 0 1 0 0 0 0 0 0 0 0 1"/><feComponentTransfer><feFuncR type="linear" slope="3" intercept="-1.0"/><feFuncG type="linear" slope="3" intercept="-1.0"/><feFuncB type="linear" slope="3" intercept="-1.0"/></feComponentTransfer><feConvolveMatrix order="5" kernelMatrix="1 4 6 4 1 4 16 24 16 4 6 24 36 24 6 4 16 24 16 4 1 4 6 4 1" edgeMode="duplicate" preserveAlpha="true"/><feComponentTransfer result="v1"><feFuncR type="table" tableValues="0.160 0.160 0.160 0.160 0.160 0.160 0.160 0.160 0.160 0.160 0.160 0.160 0.160 0.160 0.160 0.160 0.160 0.160 0.160 0.160 0.160 0.175 0.193 0.211 0.229 0.251 0.279 0.307 0.340 0.390 0.440 0.495 0.550 0.588 0.622 0.656 0.677 0.688 0.699 0.711 0.720 0.720 0.720 0.720 0.720 0.720 0.720 0.720 0.720 0.720 0.720 0.720 0.720 0.720 0.720 0.720 0.720 0.720 0.720 0.720 0.720"/><feFuncG type="table" tableValues="0.160 0.160 0.160 0.160 0.160 0.160 0.160 0.160 0.160 0.160 0.160 0.160 0.160 0.160 0.160 0.160 0.160 0.160 0.160 0.160 0.160 0.175 0.193 0.211 0.229 0.251 0.279 0.307 0.340 0.390 0.440 0.495 0.550 0.588 0.622 0.656 0.677 0.688 0.699 0.711 0.720 0.720 0.720 0.720 0.720 0.720 0.720 0.720 0.720 0.720 0.720 0.720 0.720 0.720 0.720 0.720 0.720 0.720 0.720 0.720 0.720"/><feFuncB type="table" tableValues="0.160 0.160 0.160 0.160 0.160 0.160 0.160 0.160 0.160 0.160 0.160 0.160 0.160 0.160 0.160 0.160 0.160 0.160 0.160 0.160 0.160 0.175 0.193 0.211 0.229 0.251 0.279 0.307 0.340 0.390 0.440 0.495 0.550 0.588 0.622 0.656 0.677 0.688 0.699 0.711 0.720 0.720 0.720 0.720 0.720 0.720 0.720 0.720 0.720 0.720 0.720 0.720 0.720 0.720 0.720 0.720 0.720 0.720 0.720 0.720 0.720"/></feComponentTransfer><feTurbulence type="fractalNoise" baseFrequency="0.25" numOctaves="2" seed="78"/><feColorMatrix type="matrix" values="1 0 0 0 0 1 0 0 0 0 1 0 0 0 0 0 0 0 0 1"/><feComponentTransfer result="v2"><feFuncR type="table" tableValues="0.000 0.000 0.000 0.000 0.000 0.000 0.000 0.000 0.000 0.000 0.000 0.000 0.000 0.000 0.000 0.000 0.000 0.000 0.000 0.000 0.000 0.000 0.000 0.000 0.000 0.000 0.000 0.000 0.000 0.000 0.000 0.000 0.000 0.000 0.000 0.000 0.000 0.109 0.369 0.510 0.596 0.605 0.611 0.617 0.622 0.628 0.633 0.639 0.644 0.650 0.656 0.660 0.660 0.660 0.660 0.660 0.660 0.660 0.660 0.660 0.660"/><feFuncG type="table" tableValues="0.000 0.000 0.000 0.000 0.000 0.000 0.000 0.000 0.000 0.000 0.000 0.000 0.000 0.000 0.000 0.000 0.000 0.000 0.000 0.000 0.000 0.000 0.000 0.000 0.000 0.000 0.000 0.000 0.000 0.000 0.000 0.000 0.000 0.000 0.000 0.000 0.000 0.109 0.369 0.510 0.596 0.605 0.611 0.617 0.622 0.628 0.633 0.639 0.644 0.650 0.656 0.660 0.660 0.660 0.660 0.660 0.660 0.660 0.660 0.660 0.660"/><feFuncB type="table" tableValues="0.000 0.000 0.000 0.000 0.000 0.000 0.000 0.000 0.000 0.000 0.000 0.000 0.000 0.000 0.000 0.000 0.000 0.000 0.000 0.000 0.000 0.000 0.000 0.000 0.000 0.000 0.000 0.000 0.000 0.000 0.000 0.000 0.000 0.000 0.000 0.000 0.000 0.109 0.369 0.510 0.596 0.605 0.611 0.617 0.622 0.628 0.633 0.639 0.644 0.650 0.656 0.660 0.660 0.660 0.660 0.660 0.660 0.660 0.660 0.660 0.660"/></feComponentTransfer><feComposite in="v1" in2="v2" operator="arithmetic" k2="1" k3="1"/></filter>
<linearGradient id="tl7" x1="0.2" y1="0" x2="0.5" y2="1"><stop offset="0" stop-color="#fff" stop-opacity="0.16"/><stop offset="0.45" stop-color="#fff" stop-opacity="0"/><stop offset="0.55" stop-color="#000" stop-opacity="0"/><stop offset="1" stop-color="#000" stop-opacity="0.11199999999999999"/></linearGradient>
<g id="hA" clip-path="url(#pclip)"><g filter="url(#cmapb)"><rect x="0" y="0" width="104.2" height="103.7" filter="url(#n7)"/><rect x="0" y="0" width="104.2" height="103.7" fill="url(#tl7)"/><line x1="56.6" y1="106.1" x2="104.2" y2="25.1" stroke="rgb(30,30,30)" stroke-width="4" stroke-opacity="0.8" filter="url(#bl1)"/><line x1="65.7" y1="96.6" x2="70.0" y2="89.2" stroke="rgb(250,250,250)" stroke-width="1.76" stroke-linecap="round"/><line x1="74.4" y1="81.9" x2="78.7" y2="74.5" stroke="rgb(250,250,250)" stroke-width="1.76" stroke-linecap="round"/><line x1="93.8" y1="48.7" x2="98.1" y2="41.4" stroke="rgb(250,250,250)" stroke-width="1.76" stroke-linecap="round"/></g></g>
<filter id="n8" x="0" y="0" width="100%" height="100%" color-interpolation-filters="sRGB"><feTurbulence type="fractalNoise" baseFrequency="0.09" numOctaves="3" seed="22"/><feColorMatrix type="matrix" values="1 0 0 0 0 1 0 0 0 0 1 0 0 0 0 0 0 0 0 1"/><feComponentTransfer result="v1"><feFuncR type="table" tableValues="0.340 0.340 0.340 0.340 0.340 0.340 0.340 0.340 0.340 0.342 0.348 0.355 0.361 0.367 0.373 0.380 0.386 0.392 0.398 0.406 0.415 0.423 0.432 0.440 0.449 0.457 0.466 0.474 0.483 0.491 0.500 0.510 0.520 0.531 0.541 0.551 0.561 0.572 0.582 0.592 0.602 0.612 0.622 0.630 0.639 0.647 0.655 0.664 0.672 0.680 0.689 0.697 0.700 0.700 0.700 0.700 0.700 0.700 0.700 0.700 0.700"/><feFuncG type="table" tableValues="0.340 0.340 0.340 0.340 0.340 0.340 0.340 0.340 0.340 0.342 0.348 0.355 0.361 0.367 0.373 0.380 0.386 0.392 0.398 0.406 0.415 0.423 0.432 0.440 0.449 0.457 0.466 0.474 0.483 0.491 0.500 0.510 0.520 0.531 0.541 0.551 0.561 0.572 0.582 0.592 0.602 0.612 0.622 0.630 0.639 0.647 0.655 0.664 0.672 0.680 0.689 0.697 0.700 0.700 0.700 0.700 0.700 0.700 0.700 0.700 0.700"/><feFuncB type="table" tableValues="0.340 0.340 0.340 0.340 0.340 0.340 0.340 0.340 0.340 0.342 0.348 0.355 0.361 0.367 0.373 0.380 0.386 0.392 0.398 0.406 0.415 0.423 0.432 0.440 0.449 0.457 0.466 0.474 0.483 0.491 0.500 0.510 0.520 0.531 0.541 0.551 0.561 0.572 0.582 0.592 0.602 0.612 0.622 0.630 0.639 0.647 0.655 0.664 0.672 0.680 0.689 0.697 0.700 0.700 0.700 0.700 0.700 0.700 0.700 0.700 0.700"/></feComponentTransfer><feTurbulence type="fractalNoise" baseFrequency="0.15" numOctaves="1" seed="79"/><feColorMatrix type="matrix" values="1 0 0 0 0 1 0 0 0 0 1 0 0 0 0 0 0 0 0 1"/><feComponentTransfer result="v2"><feFuncR type="table" tableValues="0.000 0.000 0.000 0.000 0.000 0.000 0.000 0.000 0.000 0.000 0.000 0.000 0.000 0.000 0.000 0.000 0.000 0.000 0.000 0.000 0.000 0.000 0.000 0.000 0.000 0.000 0.000 0.000 0.000 0.000 0.000 0.000 0.000 0.000 0.000 0.000 0.000 0.000 0.000 0.000 0.000 0.000 0.089 0.370 0.437 0.458 0.479 0.500 0.520 0.520 0.520 0.520 0.520 0.520 0.520 0.520 0.520 0.520 0.520 0.520 0.520"/><feFuncG type="table" tableValues="0.000 0.000 0.000 0.000 0.000 0.000 0.000 0.000 0.000 0.000 0.000 0.000 0.000 0.000 0.000 0.000 0.000 0.000 0.000 0.000 0.000 0.000 0.000 0.000 0.000 0.000 0.000 0.000 0.000 0.000 0.000 0.000 0.000 0.000 0.000 0.000 0.000 0.000 0.000 0.000 0.000 0.000 0.089 0.370 0.437 0.458 0.479 0.500 0.520 0.520 0.520 0.520 0.520 0.520 0.520 0.520 0.520 0.520 0.520 0.520 0.520"/><feFuncB type="table" tableValues="0.000 0.000 0.000 0.000 0.000 0.000 0.000 0.000 0.000 0.000 0.000 0.000 0.000 0.000 0.000 0.000 0.000 0.000 0.000 0.000 0.000 0.000 0.000 0.000 0.000 0.000 0.000 0.000 0.000 0.000 0.000 0.000 0.000 0.000 0.000 0.000 0.000 0.000 0.000 0.000 0.000 0.000 0.089 0.370 0.437 0.458 0.479 0.500 0.520 0.520 0.520 0.520 0.520 0.520 0.520 0.520 0.520 0.520 0.520 0.520 0.520"/></feComponentTransfer><feComposite in="v1" in2="v2" operator="arithmetic" k2="1" k3="1"/></filter>
<g id="hB" clip-path="url(#pclip)"><g filter="url(#cmapb)"><rect x="0" y="0" width="104.2" height="103.7" filter="url(#n8)"/><line x1="56.6" y1="106.1" x2="104.2" y2="25.1" stroke="rgb(30,30,30)" stroke-width="7" stroke-opacity="0.5" filter="url(#bl1)"/><line x1="63.6" y1="100.3" x2="65.3" y2="97.3" stroke="rgb(250,250,250)" stroke-width="2.72" stroke-linecap="round"/><line x1="95.1" y1="46.5" x2="97.7" y2="42.1" stroke="rgb(250,250,250)" stroke-width="2.72" stroke-linecap="round"/><line x1="100.3" y1="37.7" x2="103.8" y2="31.8" stroke="rgb(250,250,250)" stroke-width="2.88" stroke-linecap="round"/></g></g>
<filter id="n9" x="0" y="0" width="100%" height="100%" color-interpolation-filters="sRGB"><feTurbulence type="fractalNoise" baseFrequency="0.08" numOctaves="3" seed="23"/><feColorMatrix type="matrix" values="1 0 0 0 0 1 0 0 0 0 1 0 0 0 0 0 0 0 0 1"/><feComponentTransfer result="v1"><feFuncR type="table" tableValues="0.330 0.330 0.330 0.330 0.330 0.330 0.330 0.330 0.330 0.330 0.335 0.341 0.348 0.354 0.361 0.367 0.373 0.380 0.386 0.394 0.402 0.410 0.418 0.427 0.435 0.443 0.452 0.460 0.468 0.477 0.485 0.496 0.507 0.518 0.529 0.540 0.551 0.562 0.573 0.583 0.594 0.605 0.615 0.623 0.632 0.641 0.649 0.658 0.666 0.675 0.683 0.690 0.690 0.690 0.690 0.690 0.690 0.690 0.690 0.690 0.690"/><feFuncG type="table" tableValues="0.330 0.330 0.330 0.330 0.330 0.330 0.330 0.330 0.330 0.330 0.335 0.341 0.348 0.354 0.361 0.367 0.373 0.380 0.386 0.394 0.402 0.410 0.418 0.427 0.435 0.443 0.452 0.460 0.468 0.477 0.485 0.496 0.507 0.518 0.529 0.540 0.551 0.562 0.573 0.583 0.594 0.605 0.615 0.623 0.632 0.641 0.649 0.658 0.666 0.675 0.683 0.690 0.690 0.690 0.690 0.690 0.690 0.690 0.690 0.690 0.690"/><feFuncB type="table" tableValues="0.330 0.330 0.330 0.330 0.330 0.330 0.330 0.330 0.330 0.330 0.335 0.341 0.348 0.354 0.361 0.367 0.373 0.380 0.386 0.394 0.402 0.410 0.418 0.427 0.435 0.443 0.452 0.460 0.468 0.477 0.485 0.496 0.507 0.518 0.529 0.540 0.551 0.562 0.573 0.583 0.594 0.605 0.615 0.623 0.632 0.641 0.649 0.658 0.666 0.675 0.683 0.690 0.690 0.690 0.690 0.690 0.690 0.690 0.690 0.690 0.690"/></feComponentTransfer><feTurbulence type="fractalNoise" baseFrequency="0.1" numOctaves="2" seed="80"/><feColorMatrix type="matrix" values="1 0 0 0 0 1 0 0 0 0 1 0 0 0 0 0 0 0 0 1"/><feComponentTransfer result="v2"><feFuncR type="table" tableValues="0.000 0.000 0.000 0.000 0.000 0.000 0.000 0.000 0.000 0.000 0.000 0.000 0.000 0.000 0.000 0.000 0.000 0.000 0.000 0.000 0.000 0.000 0.000 0.000 0.000 0.000 0.000 0.000 0.000 0.000 0.000 0.000 0.000 0.000 0.000 0.000 0.000 0.000 0.000 0.000 0.000 0.000 0.000 0.000 0.014 0.114 0.215 0.316 0.356 0.377 0.398 0.419 0.440 0.450 0.450 0.450 0.450 0.450 0.450 0.450 0.450"/><feFuncG type="table" tableValues="0.000 0.000 0.000 0.000 0.000 0.000 0.000 0.000 0.000 0.000 0.000 0.000 0.000 0.000 0.000 0.000 0.000 0.000 0.000 0.000 0.000 0.000 0.000 0.000 0.000 0.000 0.000 0.000 0.000 0.000 0.000 0.000 0.000 0.000 0.000 0.000 0.000 0.000 0.000 0.000 0.000 0.000 0.000 0.000 0.014 0.114 0.215 0.316 0.356 0.377 0.398 0.419 0.440 0.450 0.450 0.450 0.450 0.450 0.450 0.450 0.450"/><feFuncB type="table" tableValues="0.000 0.000 0.000 0.000 0.000 0.000 0.000 0.000 0.000 0.000 0.000 0.000 0.000 0.000 0.000 0.000 0.000 0.000 0.000 0.000 0.000 0.000 0.000 0.000 0.000 0.000 0.000 0.000 0.000 0.000 0.000 0.000 0.000 0.000 0.000 0.000 0.000 0.000 0.000 0.000 0.000 0.000 0.000 0.000 0.014 0.114 0.215 0.316 0.356 0.377 0.398 0.419 0.440 0.450 0.450 0.450 0.450 0.450 0.450 0.450 0.450"/></feComponentTransfer><feComposite in="v1" in2="v2" operator="arithmetic" k2="1" k3="1"/></filter>
<g id="hC" clip-path="url(#pclip)"><g filter="url(#cmapb)"><rect x="0" y="0" width="104.2" height="103.7" filter="url(#n9)"/><line x1="56.6" y1="106.1" x2="104.2" y2="25.1" stroke="rgb(30,30,30)" stroke-width="7" stroke-opacity="0.45" filter="url(#bl1)"/><line x1="98.1" y1="41.4" x2="100.3" y2="37.7" stroke="rgb(250,250,250)" stroke-width="2.40" stroke-linecap="round"/></g></g>
<filter id="n10" x="0" y="0" width="100%" height="100%" color-interpolation-filters="sRGB"><feTurbulence type="fractalNoise" baseFrequency="0.7" numOctaves="1" seed="24"/><feColorMatrix type="matrix" values="1 0 0 0 0 1 0 0 0 0 1 0 0 0 0 0 0 0 0 1"/><feComponentTransfer><feFuncR type="linear" slope="3" intercept="-1.0"/><feFuncG type="linear" slope="3" intercept="-1.0"/><feFuncB type="linear" slope="3" intercept="-1.0"/></feComponentTransfer><feConvolveMatrix order="5" kernelMatrix="1 4 6 4 1 4 16 24 16 4 6 24 36 24 6 4 16 24 16 4 1 4 6 4 1" edgeMode="duplicate" preserveAlpha="true"/><feComponentTransfer result="v1"><feFuncR type="table" tableValues="0.160 0.160 0.160 0.160 0.160 0.160 0.160 0.160 0.160 0.160 0.160 0.160 0.160 0.160 0.160 0.160 0.160 0.160 0.160 0.160 0.160 0.175 0.193 0.211 0.229 0.251 0.279 0.307 0.340 0.390 0.440 0.495 0.550 0.588 0.622 0.656 0.677 0.688 0.699 0.711 0.720 0.720 0.720 0.720 0.720 0.720 0.720 0.720 0.720 0.720 0.720 0.720 0.720 0.720 0.720 0.720 0.720 0.720 0.720 0.720 0.720"/><feFuncG type="table" tableValues="0.160 0.160 0.160 0.160 0.160 0.160 0.160 0.160 0.160 0.160 0.160 0.160 0.160 0.160 0.160 0.160 0.160 0.160 0.160 0.160 0.160 0.175 0.193 0.211 0.229 0.251 0.279 0.307 0.340 0.390 0.440 0.495 0.550 0.588 0.622 0.656 0.677 0.688 0.699 0.711 0.720 0.720 0.720 0.720 0.720 0.720 0.720 0.720 0.720 0.720 0.720 0.720 0.720 0.720 0.720 0.720 0.720 0.720 0.720 0.720 0.720"/><feFuncB type="table" tableValues="0.160 0.160 0.160 0.160 0.160 0.160 0.160 0.160 0.160 0.160 0.160 0.160 0.160 0.160 0.160 0.160 0.160 0.160 0.160 0.160 0.160 0.175 0.193 0.211 0.229 0.251 0.279 0.307 0.340 0.390 0.440 0.495 0.550 0.588 0.622 0.656 0.677 0.688 0.699 0.711 0.720 0.720 0.720 0.720 0.720 0.720 0.720 0.720 0.720 0.720 0.720 0.720 0.720 0.720 0.720 0.720 0.720 0.720 0.720 0.720 0.720"/></feComponentTransfer><feTurbulence type="fractalNoise" baseFrequency="0.25" numOctaves="2" seed="81"/><feColorMatrix type="matrix" values="1 0 0 0 0 1 0 0 0 0 1 0 0 0 0 0 0 0 0 1"/><feComponentTransfer result="v2"><feFuncR type="table" tableValues="0.000 0.000 0.000 0.000 0.000 0.000 0.000 0.000 0.000 0.000 0.000 0.000 0.000 0.000 0.000 0.000 0.000 0.000 0.000 0.000 0.000 0.000 0.000 0.000 0.000 0.000 0.000 0.000 0.000 0.000 0.000 0.000 0.000 0.000 0.000 0.000 0.000 0.000 0.000 0.000 0.259 0.473 0.559 0.604 0.611 0.618 0.625 0.633 0.640 0.647 0.654 0.660 0.660 0.660 0.660 0.660 0.660 0.660 0.660 0.660 0.660"/><feFuncG type="table" tableValues="0.000 0.000 0.000 0.000 0.000 0.000 0.000 0.000 0.000 0.000 0.000 0.000 0.000 0.000 0.000 0.000 0.000 0.000 0.000 0.000 0.000 0.000 0.000 0.000 0.000 0.000 0.000 0.000 0.000 0.000 0.000 0.000 0.000 0.000 0.000 0.000 0.000 0.000 0.000 0.000 0.259 0.473 0.559 0.604 0.611 0.618 0.625 0.633 0.640 0.647 0.654 0.660 0.660 0.660 0.660 0.660 0.660 0.660 0.660 0.660 0.660"/><feFuncB type="table" tableValues="0.000 0.000 0.000 0.000 0.000 0.000 0.000 0.000 0.000 0.000 0.000 0.000 0.000 0.000 0.000 0.000 0.000 0.000 0.000 0.000 0.000 0.000 0.000 0.000 0.000 0.000 0.000 0.000 0.000 0.000 0.000 0.000 0.000 0.000 0.000 0.000 0.000 0.000 0.000 0.000 0.259 0.473 0.559 0.604 0.611 0.618 0.625 0.633 0.640 0.647 0.654 0.660 0.660 0.660 0.660 0.660 0.660 0.660 0.660 0.660 0.660"/></feComponentTransfer><feComposite in="v1" in2="v2" operator="arithmetic" k2="1" k3="1"/></filter>
<linearGradient id="tl10" x1="0.2" y1="0" x2="0.5" y2="1"><stop offset="0" stop-color="#fff" stop-opacity="0.14"/><stop offset="0.45" stop-color="#fff" stop-opacity="0"/><stop offset="0.55" stop-color="#000" stop-opacity="0"/><stop offset="1" stop-color="#000" stop-opacity="0.098"/></linearGradient>
<g id="hD" clip-path="url(#pclip)"><g filter="url(#cmapb)"><rect x="0" y="0" width="104.2" height="103.7" filter="url(#n10)"/><rect x="0" y="0" width="104.2" height="103.7" fill="url(#tl10)"/><line x1="56.6" y1="106.1" x2="104.2" y2="25.1" stroke="rgb(30,30,30)" stroke-width="5" stroke-opacity="0.7" filter="url(#bl1)"/><line x1="70.0" y1="89.2" x2="71.3" y2="87.1" stroke="rgb(250,250,250)" stroke-width="2.58" stroke-linecap="round"/><line x1="72.4" y1="85.2" x2="74.8" y2="81.1" stroke="rgb(250,250,250)" stroke-width="2.44" stroke-linecap="round"/></g></g>
<filter id="n11" x="0" y="0" width="100%" height="100%" color-interpolation-filters="sRGB"><feTurbulence type="fractalNoise" baseFrequency="0.025" numOctaves="2" seed="27"/><feColorMatrix type="matrix" values="1 0 0 0 0 1 0 0 0 0 1 0 0 0 0 0 0 0 0 1"/><feComponentTransfer result="v1"><feFuncR type="table" tableValues="0.400 0.400 0.400 0.400 0.400 0.400 0.400 0.400 0.403 0.409 0.415 0.421 0.427 0.433 0.439 0.445 0.451 0.457 0.462 0.468 0.474 0.479 0.485 0.491 0.496 0.502 0.507 0.513 0.519 0.524 0.530 0.535 0.540 0.546 0.551 0.556 0.561 0.567 0.572 0.577 0.582 0.588 0.593 0.598 0.604 0.609 0.614 0.620 0.625 0.631 0.636 0.641 0.647 0.650 0.650 0.650 0.650 0.650 0.650 0.650 0.650"/><feFuncG type="table" tableValues="0.400 0.400 0.400 0.400 0.400 0.400 0.400 0.400 0.403 0.409 0.415 0.421 0.427 0.433 0.439 0.445 0.451 0.457 0.462 0.468 0.474 0.479 0.485 0.491 0.496 0.502 0.507 0.513 0.519 0.524 0.530 0.535 0.540 0.546 0.551 0.556 0.561 0.567 0.572 0.577 0.582 0.588 0.593 0.598 0.604 0.609 0.614 0.620 0.625 0.631 0.636 0.641 0.647 0.650 0.650 0.650 0.650 0.650 0.650 0.650 0.650"/><feFuncB type="table" tableValues="0.400 0.400 0.400 0.400 0.400 0.400 0.400 0.400 0.403 0.409 0.415 0.421 0.427 0.433 0.439 0.445 0.451 0.457 0.462 0.468 0.474 0.479 0.485 0.491 0.496 0.502 0.507 0.513 0.519 0.524 0.530 0.535 0.540 0.546 0.551 0.556 0.561 0.567 0.572 0.577 0.582 0.588 0.593 0.598 0.604 0.609 0.614 0.620 0.625 0.631 0.636 0.641 0.647 0.650 0.650 0.650 0.650 0.650 0.650 0.650 0.650"/></feComponentTransfer></filter>
<linearGradient id="tl11" x1="0.2" y1="0" x2="0.5" y2="1"><stop offset="0" stop-color="#fff" stop-opacity="0.07"/><stop offset="0.45" stop-color="#fff" stop-opacity="0"/><stop offset="0.55" stop-color="#000" stop-opacity="0"/><stop offset="1" stop-color="#000" stop-opacity="0.049"/></linearGradient>
<g id="hG" clip-path="url(#pclip)"><g filter="url(#cmapb)"><rect x="0" y="0" width="104.2" height="103.7" filter="url(#n11)"/><rect x="0" y="0" width="104.2" height="103.7" fill="url(#tl11)"/><ellipse cx="0" cy="0" rx="6.0" ry="3.0" transform="translate(101.6,62.2) rotate(90)" fill="rgb(200,200,200)"/></g></g>
<filter id="n12" x="0" y="0" width="100%" height="100%" color-interpolation-filters="sRGB"><feTurbulence type="fractalNoise" baseFrequency="0.07" numOctaves="3" seed="26"/><feColorMatrix type="matrix" values="1 0 0 0 0 1 0 0 0 0 1 0 0 0 0 0 0 0 0 1"/><feComponentTransfer result="v1"><feFuncR type="table" tableValues="0.330 0.330 0.330 0.330 0.330 0.330 0.330 0.330 0.330 0.334 0.340 0.346 0.352 0.358 0.364 0.371 0.377 0.383 0.389 0.397 0.405 0.413 0.421 0.429 0.437 0.445 0.453 0.461 0.469 0.477 0.485 0.496 0.506 0.517 0.527 0.538 0.548 0.559 0.569 0.580 0.590 0.601 0.611 0.619 0.628 0.636 0.644 0.652 0.661 0.669 0.677 0.685 0.690 0.690 0.690 0.690 0.690 0.690 0.690 0.690 0.690"/><feFuncG type="table" tableValues="0.330 0.330 0.330 0.330 0.330 0.330 0.330 0.330 0.330 0.334 0.340 0.346 0.352 0.358 0.364 0.371 0.377 0.383 0.389 0.397 0.405 0.413 0.421 0.429 0.437 0.445 0.453 0.461 0.469 0.477 0.485 0.496 0.506 0.517 0.527 0.538 0.548 0.559 0.569 0.580 0.590 0.601 0.611 0.619 0.628 0.636 0.644 0.652 0.661 0.669 0.677 0.685 0.690 0.690 0.690 0.690 0.690 0.690 0.690 0.690 0.690"/><feFuncB type="table" tableValues="0.330 0.330 0.330 0.330 0.330 0.330 0.330 0.330 0.330 0.334 0.340 0.346 0.352 0.358 0.364 0.371 0.377 0.383 0.389 0.397 0.405 0.413 0.421 0.429 0.437 0.445 0.453 0.461 0.469 0.477 0.485 0.496 0.506 0.517 0.527 0.538 0.548 0.559 0.569 0.580 0.590 0.601 0.611 0.619 0.628 0.636 0.644 0.652 0.661 0.669 0.677 0.685 0.690 0.690 0.690 0.690 0.690 0.690 0.690 0.690 0.690"/></feComponentTransfer><feTurbulence type="fractalNoise" baseFrequency="0.1" numOctaves="2" seed="83"/><feColorMatrix type="matrix" values="1 0 0 0 0 1 0 0 0 0 1 0 0 0 0 0 0 0 0 1"/><feComponentTransfer result="v2"><feFuncR type="table" tableValues="0.000 0.000 0.000 0.000 0.000 0.000 0.000 0.000 0.000 0.000 0.000 0.000 0.000 0.000 0.000 0.000 0.000 0.000 0.000 0.000 0.000 0.000 0.000 0.000 0.000 0.000 0.000 0.000 0.000 0.000 0.000 0.000 0.000 0.000 0.000 0.000 0.000 0.000 0.000 0.000 0.000 0.000 0.000 0.000 0.054 0.161 0.268 0.362 0.378 0.394 0.410 0.426 0.442 0.450 0.450 0.450 0.450 0.450 0.450 0.450 0.450"/><feFuncG type="table" tableValues="0.000 0.000 0.000 0.000 0.000 0.000 0.000 0.000 0.000 0.000 0.000 0.000 0.000 0.000 0.000 0.000 0.000 0.000 0.000 0.000 0.000 0.000 0.000 0.000 0.000 0.000 0.000 0.000 0.000 0.000 0.000 0.000 0.000 0.000 0.000 0.000 0.000 0.000 0.000 0.000 0.000 0.000 0.000 0.000 0.054 0.161 0.268 0.362 0.378 0.394 0.410 0.426 0.442 0.450 0.450 0.450 0.450 0.450 0.450 0.450 0.450"/><feFuncB type="table" tableValues="0.000 0.000 0.000 0.000 0.000 0.000 0.000 0.000 0.000 0.000 0.000 0.000 0.000 0.000 0.000 0.000 0.000 0.000 0.000 0.000 0.000 0.000 0.000 0.000 0.000 0.000 0.000 0.000 0.000 0.000 0.000 0.000 0.000 0.000 0.000 0.000 0.000 0.000 0.000 0.000 0.000 0.000 0.000 0.000 0.054 0.161 0.268 0.362 0.378 0.394 0.410 0.426 0.442 0.450 0.450 0.450 0.450 0.450 0.450 0.450 0.450"/></feComponentTransfer><feComposite in="v1" in2="v2" operator="arithmetic" k2="1" k3="1"/></filter>
<linearGradient id="tl12" x1="0.2" y1="0" x2="0.5" y2="1"><stop offset="0" stop-color="#fff" stop-opacity="0.08"/><stop offset="0.45" stop-color="#fff" stop-opacity="0"/><stop offset="0.55" stop-color="#000" stop-opacity="0"/><stop offset="1" stop-color="#000" stop-opacity="0.055999999999999994"/></linearGradient>
<g id="hH" clip-path="url(#pclip)"><g filter="url(#cmapb)"><rect x="0" y="0" width="104.2" height="103.7" filter="url(#n12)"/><rect x="0" y="0" width="104.2" height="103.7" fill="url(#tl12)"/></g></g>
<clipPath id="clipv"><polygon points="343.3,113.5 446.7,129.5 446.7,139.5 399.4,216.7 367.4,216.7"/></clipPath>
<clipPath id="cliph"><polygon points="343.3,364.4 446.7,380.4 446.7,390.4 399.4,467.8 367.4,467.8"/></clipPath>
<linearGradient id="g14" x1="0" y1="1" x2="0" y2="0"><stop offset="0" stop-color="#000"/><stop offset="1" stop-color="#fff"/></linearGradient>
<linearGradient id="g262" x1="0" y1="1" x2="0" y2="0"><stop offset="0" stop-color="#000"/><stop offset="1" stop-color="#fff"/></linearGradient>
</defs>
<rect width="550" height="477" fill="#fff"/>
<use href="#vA" x="30.80" y="9.50"/>
<use href="#vB" x="135.00" y="9.50"/>
<use href="#vC" x="238.80" y="9.50"/>
<use href="#vD" x="343.00" y="9.50"/>
<use href="#vA" x="30.80" y="113.20"/>
<use href="#vB" x="135.00" y="113.20"/>
<use href="#vG" x="238.80" y="113.20"/>
<g clip-path="url(#clipv)"><use href="#vH" x="343.00" y="113.20"/></g>
<line x1="30.00" y1="9.50" x2="447.80" y2="9.50" stroke="#000" stroke-width="1.6"/>
<line x1="30.00" y1="113.20" x2="447.80" y2="113.20" stroke="#000" stroke-width="1.6"/>
<line x1="30.00" y1="217.00" x2="447.80" y2="217.00" stroke="#000" stroke-width="1.6"/>
<line x1="30.80" y1="8.70" x2="30.80" y2="217.80" stroke="#000" stroke-width="1.6"/>
<line x1="135.00" y1="8.70" x2="135.00" y2="217.80" stroke="#000" stroke-width="1.6"/>
<line x1="238.80" y1="8.70" x2="238.80" y2="217.80" stroke="#000" stroke-width="1.6"/>
<line x1="343.00" y1="8.70" x2="343.00" y2="217.80" stroke="#000" stroke-width="1.6"/>
<line x1="447.00" y1="8.70" x2="447.00" y2="217.80" stroke="#000" stroke-width="1.6"/>
<rect x="111.20" y="92.70" width="21.20" height="21.10" fill="#fff"/>
<text transform="translate(121.80,107.80) scale(1.12,1)" class="lab" text-anchor="middle">(a)</text>
<rect x="214.00" y="93.30" width="22.60" height="20.80" fill="#fff"/>
<text transform="translate(225.30,108.10) scale(1.12,1)" class="lab" text-anchor="middle">(b)</text>
<rect x="319.10" y="93.80" width="19.80" height="20.00" fill="#fff"/>
<text transform="translate(329.00,107.80) scale(1.12,1)" class="lab" text-anchor="middle">(c)</text>
<rect x="421.90" y="93.50" width="22.60" height="20.00" fill="#fff"/>
<text transform="translate(433.20,107.50) scale(1.12,1)" class="lab" text-anchor="middle">(d)</text>
<rect x="110.90" y="196.25" width="20.00" height="20.25" fill="#fff"/>
<text transform="translate(120.90,210.50) scale(1.12,1)" class="lab" text-anchor="middle">(e)</text>
<rect x="216.30" y="196.00" width="18.70" height="20.20" fill="#fff"/>
<text transform="translate(225.65,210.20) scale(1.12,1)" class="lab" text-anchor="middle">(f)</text>
<rect x="318.00" y="195.80" width="20.90" height="20.40" fill="#fff"/>
<text transform="translate(328.45,210.20) scale(1.12,1)" class="lab" text-anchor="middle">(g)</text>
<rect x="422.00" y="196.00" width="22.50" height="20.20" fill="#fff"/>
<text transform="translate(433.25,210.20) scale(1.12,1)" class="lab" text-anchor="middle">(h)</text>
<use href="#hA" x="30.80" y="260.00"/>
<use href="#hB" x="135.00" y="260.00"/>
<use href="#hC" x="238.80" y="260.00"/>
<use href="#hD" x="343.00" y="260.00"/>
<use href="#hA" x="30.80" y="364.10"/>
<use href="#hB" x="135.00" y="364.10"/>
<use href="#hG" x="238.80" y="364.10"/>
<g clip-path="url(#cliph)"><use href="#hH" x="343.00" y="364.10"/></g>
<line x1="30.00" y1="260.00" x2="447.80" y2="260.00" stroke="#000" stroke-width="1.6"/>
<line x1="30.00" y1="364.10" x2="447.80" y2="364.10" stroke="#000" stroke-width="1.6"/>
<line x1="30.00" y1="468.10" x2="447.80" y2="468.10" stroke="#000" stroke-width="1.6"/>
<line x1="30.80" y1="259.20" x2="30.80" y2="468.90" stroke="#000" stroke-width="1.6"/>
<line x1="135.00" y1="259.20" x2="135.00" y2="468.90" stroke="#000" stroke-width="1.6"/>
<line x1="238.80" y1="259.20" x2="238.80" y2="468.90" stroke="#000" stroke-width="1.6"/>
<line x1="343.00" y1="259.20" x2="343.00" y2="468.90" stroke="#000" stroke-width="1.6"/>
<line x1="447.00" y1="259.20" x2="447.00" y2="468.90" stroke="#000" stroke-width="1.6"/>
<rect x="108.10" y="341.00" width="25.50" height="21.10" fill="#fff"/>
<text transform="translate(120.85,356.10) scale(1.12,1)" class="lab" text-anchor="middle">(a′)</text>
<rect x="207.20" y="340.70" width="27.30" height="21.60" fill="#fff"/>
<text transform="translate(220.85,356.30) scale(1.12,1)" class="lab" text-anchor="middle">(b′)</text>
<rect x="314.20" y="340.70" width="24.20" height="21.60" fill="#fff"/>
<text transform="translate(326.30,356.30) scale(1.12,1)" class="lab" text-anchor="middle">(c′)</text>
<rect x="416.90" y="340.00" width="27.30" height="20.70" fill="#fff"/>
<text transform="translate(430.55,354.70) scale(1.12,1)" class="lab" text-anchor="middle">(d′)</text>
<rect x="108.40" y="444.00" width="25.20" height="21.80" fill="#fff"/>
<text transform="translate(121.00,459.80) scale(1.12,1)" class="lab" text-anchor="middle">(e′)</text>
<rect x="211.90" y="442.20" width="24.00" height="21.70" fill="#fff"/>
<text transform="translate(223.90,457.90) scale(1.12,1)" class="lab" text-anchor="middle">(f′)</text>
<rect x="314.50" y="444.00" width="27.10" height="21.80" fill="#fff"/>
<text transform="translate(328.05,459.80) scale(1.12,1)" class="lab" text-anchor="middle">(g′)</text>
<rect x="417.00" y="444.00" width="27.50" height="22.00" fill="#fff"/>
<text transform="translate(430.75,460.00) scale(1.12,1)" class="lab" text-anchor="middle">(h′)</text>
<g filter="url(#cmap)"><rect x="459.0" y="14.0" width="20.5" height="201.5" fill="url(#g14)"/></g>
<rect x="459.0" y="14.0" width="20.5" height="201.5" fill="none" stroke="#333" stroke-width="0.9"/>
<line x1="477.3" y1="18.30" x2="479.5" y2="18.30" stroke="#333" stroke-width="0.9"/>
<text transform="translate(487.6,25.60) scale(0.93,1)" class="tick">0.25</text>
<line x1="477.3" y1="57.74" x2="479.5" y2="57.74" stroke="#333" stroke-width="0.9"/>
<text transform="translate(487.6,65.04) scale(0.93,1)" class="tick">0.20</text>
<line x1="477.3" y1="97.18" x2="479.5" y2="97.18" stroke="#333" stroke-width="0.9"/>
<text transform="translate(487.6,104.48) scale(0.93,1)" class="tick">0.15</text>
<line x1="477.3" y1="136.62" x2="479.5" y2="136.62" stroke="#333" stroke-width="0.9"/>
<text transform="translate(487.6,143.92) scale(0.93,1)" class="tick">0.10</text>
<line x1="477.3" y1="176.06" x2="479.5" y2="176.06" stroke="#333" stroke-width="0.9"/>
<text transform="translate(487.6,183.36) scale(0.93,1)" class="tick">0.05</text>
<line x1="477.3" y1="215.50" x2="479.5" y2="215.50" stroke="#333" stroke-width="0.9"/>
<text transform="translate(487.6,222.80) scale(0.93,1)" class="tick">0</text>
<g filter="url(#cmap)"><rect x="458.3" y="262.7" width="20.19999999999999" height="199.5" fill="url(#g262)"/></g>
<rect x="458.3" y="262.7" width="20.19999999999999" height="199.5" fill="none" stroke="#333" stroke-width="0.9"/>
<line x1="476.3" y1="285.60" x2="478.5" y2="285.60" stroke="#333" stroke-width="0.9"/>
<text transform="translate(487.6,292.90) scale(0.93,1)" class="tick">0.04</text>
<line x1="476.3" y1="329.75" x2="478.5" y2="329.75" stroke="#333" stroke-width="0.9"/>
<text transform="translate(487.6,337.05) scale(0.93,1)" class="tick">0.03</text>
<line x1="476.3" y1="373.90" x2="478.5" y2="373.90" stroke="#333" stroke-width="0.9"/>
<text transform="translate(487.6,381.20) scale(0.93,1)" class="tick">0.02</text>
<line x1="476.3" y1="418.05" x2="478.5" y2="418.05" stroke="#333" stroke-width="0.9"/>
<text transform="translate(487.6,425.35) scale(0.93,1)" class="tick">0.01</text>
<line x1="476.3" y1="462.20" x2="478.5" y2="462.20" stroke="#333" stroke-width="0.9"/>
<text transform="translate(487.6,469.50) scale(0.93,1)" class="tick">0</text>
<text class="side" transform="translate(19,118.3) rotate(-90)" text-anchor="middle">Corn-VV</text>
<text class="side" transform="translate(19,367.4) rotate(-90)" text-anchor="middle">Corn-VH</text>
<text class="bcl" transform="translate(528.6,118.0) rotate(90)" text-anchor="middle">BC (linear)</text>
<text class="bcl" transform="translate(527.9,363.5) rotate(90)" text-anchor="middle">BC (linear)</text>
</svg>
</body></html>
